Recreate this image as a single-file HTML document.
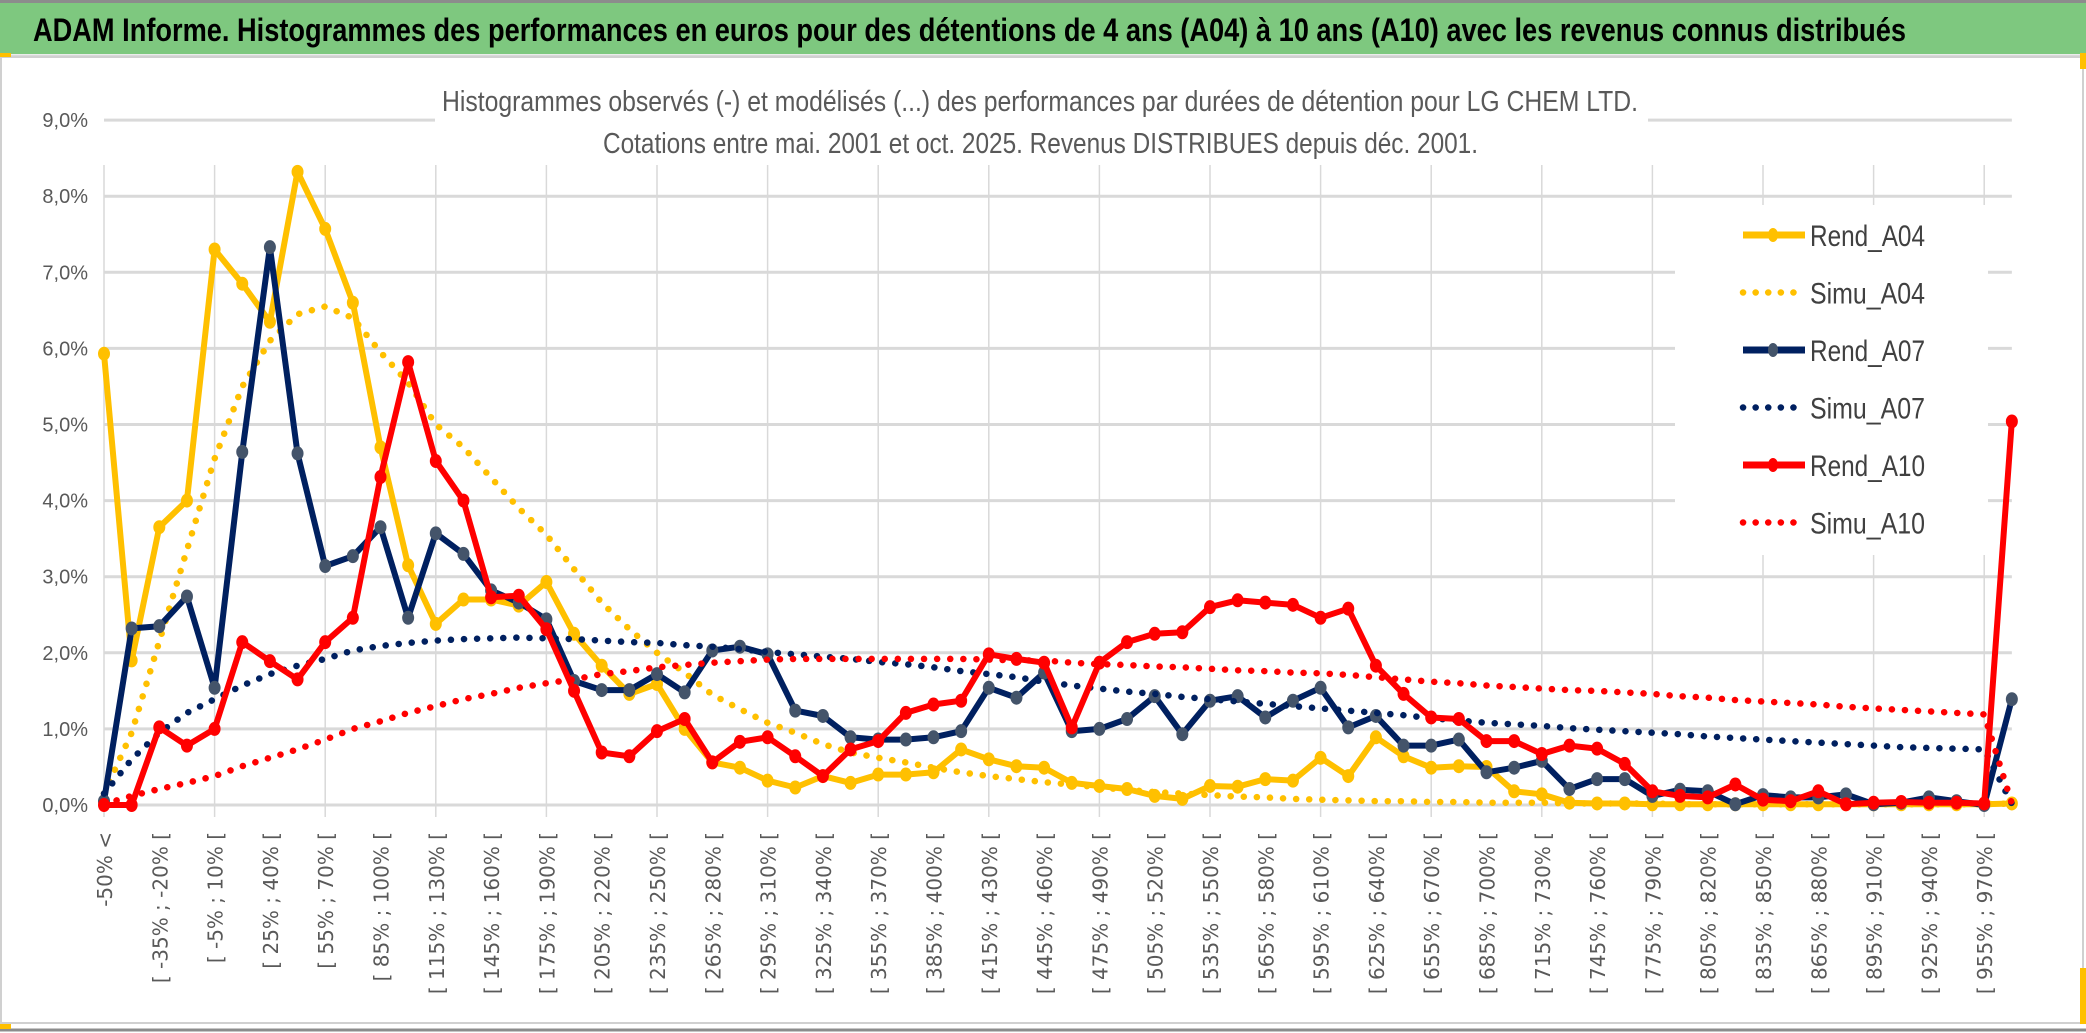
<!DOCTYPE html>
<html><head><meta charset="utf-8"><style>
html,body{margin:0;padding:0;background:#fff;}
svg{display:block;}
</style></head><body>
<svg id="chart" width="2086" height="1033" viewBox="0 0 2086 1033" xmlns="http://www.w3.org/2000/svg">
<rect x="0" y="0" width="2086" height="1033" fill="#ffffff"/>
<rect x="0" y="2" width="2086" height="52" fill="#7ec87f"/>
<line x1="0" y1="1.5" x2="2086" y2="1.5" stroke="#8c8c8c" stroke-width="3"/>
<line x1="0" y1="56" x2="2086" y2="56" stroke="#d9d9d9" stroke-width="3"/>
<text x="33" y="41" textLength="1873" lengthAdjust="spacingAndGlyphs" font-family="'Liberation Sans Narrow','Liberation Sans',sans-serif" font-weight="bold" font-size="32" fill="#000">ADAM Informe. Histogrammes des performances en euros pour des détentions de 4 ans (A04) à 10 ans (A10) avec les revenus connus distribués</text>
<rect x="1" y="57" width="2082" height="966" fill="none" stroke="#d0d0d0" stroke-width="2"/>
<line x1="0" y1="1030" x2="2086" y2="1030" stroke="#8c8c8c" stroke-width="3"/>
<rect x="0" y="53" width="11" height="4" fill="#ffc000"/>
<rect x="0" y="1024" width="11" height="5" fill="#ffc000"/>
<rect x="2080" y="53" width="6" height="16" fill="#ffc000"/>
<rect x="2080" y="968" width="6" height="56" fill="#ffc000"/>
<g id="grid"></g>
<rect x="435" y="62" width="1213" height="102" fill="#fff"/>
<text x="442" y="111" textLength="1196" lengthAdjust="spacingAndGlyphs" font-family="'Liberation Sans Narrow','Liberation Sans',sans-serif" font-size="29" fill="#595959">Histogrammes observés (-) et modélisés (...) des performances par durées de détention pour LG CHEM LTD.</text>
<text x="603" y="153" textLength="875" lengthAdjust="spacingAndGlyphs" font-family="'Liberation Sans Narrow','Liberation Sans',sans-serif" font-size="29" fill="#595959">Cotations entre mai. 2001 et oct. 2025. Revenus DISTRIBUES depuis déc. 2001.</text>
<g id="yaxis"></g>
<g id="xaxis"></g>
<g id="series"></g>
<g id="legend"></g>
</svg>
<script>
const yTicks = [0,1,2,3,4,5,6,7,8,9];
const catLowers = [];
for (let k = 0; k < 69; k++) catLowers.push(-50 + 15 * k);
const rendA04 = [5.93,1.9,3.65,4.0,7.3,6.85,6.35,8.32,7.57,6.6,4.7,3.15,2.38,2.7,2.7,2.62,2.93,2.25,1.83,1.46,1.59,1.0,0.56,0.49,0.32,0.23,0.38,0.29,0.4,0.4,0.43,0.73,0.6,0.51,0.49,0.29,0.25,0.21,0.12,0.08,0.25,0.24,0.34,0.32,0.62,0.38,0.89,0.64,0.49,0.51,0.5,0.18,0.14,0.03,0.02,0.02,0.01,0.01,0.01,0.01,0.01,0.01,0.01,0.01,0.01,0.01,0.01,0.01,0.01,0.02];
const simuA04 = [0.15,0.95,2.15,3.35,4.55,5.5,6.1,6.45,6.55,6.4,5.95,5.55,5.0,4.7,4.3,3.9,3.55,3.1,2.66,2.31,2.0,1.74,1.45,1.26,1.08,0.95,0.8,0.69,0.62,0.56,0.49,0.43,0.38,0.34,0.3,0.27,0.23,0.2,0.17,0.15,0.13,0.11,0.1,0.08,0.07,0.06,0.05,0.05,0.04,0.04,0.03,0.03,0.03,0.02,0.02,0.02,0.02,0.01,0.01,0.01,0.01,0.01,0.01,0.01,0.01,0.01,0.01,0.01,0.01,0.02];
const rendA07 = [0.05,2.32,2.35,2.74,1.54,4.64,7.33,4.62,3.14,3.27,3.65,2.46,3.57,3.3,2.82,2.66,2.44,1.63,1.51,1.51,1.72,1.48,2.03,2.08,1.98,1.24,1.17,0.89,0.86,0.86,0.89,0.97,1.54,1.41,1.74,0.97,1.0,1.13,1.43,0.93,1.37,1.43,1.15,1.37,1.54,1.02,1.17,0.78,0.78,0.86,0.43,0.49,0.58,0.21,0.34,0.34,0.12,0.2,0.18,0.01,0.13,0.1,0.1,0.14,0.01,0.03,0.1,0.05,0.0,1.39];
const simuA07 = [0.15,0.6,0.95,1.21,1.39,1.57,1.72,1.83,1.92,2.03,2.09,2.13,2.16,2.18,2.19,2.2,2.19,2.18,2.16,2.14,2.13,2.1,2.08,2.05,2.01,1.98,1.95,1.92,1.88,1.85,1.81,1.76,1.72,1.68,1.62,1.57,1.53,1.49,1.46,1.42,1.39,1.36,1.33,1.3,1.27,1.24,1.21,1.18,1.14,1.11,1.08,1.06,1.04,1.01,0.99,0.97,0.95,0.93,0.9,0.88,0.86,0.84,0.82,0.8,0.78,0.76,0.75,0.74,0.73,0.02];
const rendA10 = [0.0,0.0,1.02,0.78,1.0,2.14,1.89,1.65,2.14,2.46,4.31,5.82,4.52,4.0,2.73,2.75,2.31,1.5,0.69,0.64,0.97,1.13,0.56,0.83,0.89,0.64,0.38,0.73,0.84,1.21,1.32,1.37,1.98,1.92,1.87,1.02,1.87,2.14,2.25,2.27,2.6,2.69,2.66,2.63,2.46,2.58,1.83,1.46,1.15,1.13,0.84,0.84,0.67,0.78,0.74,0.54,0.18,0.12,0.1,0.27,0.07,0.05,0.18,0.01,0.03,0.04,0.03,0.03,0.02,5.04];
const simuA10 = [0.01,0.12,0.21,0.29,0.38,0.51,0.62,0.73,0.86,1.0,1.1,1.21,1.3,1.39,1.46,1.54,1.6,1.65,1.72,1.76,1.81,1.84,1.87,1.89,1.91,1.92,1.92,1.92,1.92,1.92,1.92,1.92,1.91,1.9,1.9,1.87,1.85,1.84,1.82,1.81,1.79,1.77,1.76,1.74,1.73,1.71,1.68,1.65,1.62,1.6,1.57,1.55,1.53,1.51,1.5,1.48,1.46,1.43,1.41,1.38,1.36,1.34,1.32,1.29,1.27,1.25,1.23,1.21,1.19,0.02];

const NS = 'http://www.w3.org/2000/svg';
const X0 = 104, DX = 27.65, Y0 = 805, DY = 76.1;
function xPos(i){ return X0 + i * DX; }
function yPos(v){ return Y0 - v * DY; }
function mk(tag, attrs, parent){
  const e = document.createElementNS(NS, tag);
  for (const k in attrs) e.setAttribute(k, attrs[k]);
  parent.appendChild(e);
  return e;
}
const nCat = rendA04.length;
const grid = document.getElementById('grid');
yTicks.forEach(t => {
  const l = mk('line', {x1: X0, x2: xPos(nCat - 1), y1: yPos(t), y2: yPos(t), stroke: '#d9d9d9', 'stroke-width': 3}, grid);
  
  
});
for (let i = 0; i < nCat; i += 4) {
  const l = mk('line', {x1: xPos(i), x2: xPos(i), y1: 165, y2: 817, stroke: '#d9d9d9', 'stroke-width': 1.5}, grid);
  
  
}
const yaxis = document.getElementById('yaxis');
yTicks.forEach(t => {
  const tx = mk('text', {x: 88, y: yPos(t) + 7, 'text-anchor': 'end', 'font-family': "'Liberation Sans Narrow','Liberation Sans',sans-serif", 'font-size': 20, fill: '#595959'}, yaxis);
  tx.textContent = t.toFixed(1).replace('.', ',') + '%';
  
  
});
const xaxis = document.getElementById('xaxis');
for (let i = 0; i < catLowers.length; i += 2) {
  const lab = i === 0 ? '-50% <' : '[ ' + catLowers[i - 1] + '% ; ' + (catLowers[i - 1] + 15) + '% [';
  const cx = xPos(i) + 8, cy = 832;
  const tx = mk('text', {x: cx, y: cy, transform: 'rotate(-90 ' + cx + ' ' + cy + ')', 'text-anchor': 'end', 'font-family': "'DejaVu Sans',sans-serif", 'font-size': 20, fill: '#595959'}, xaxis);
  tx.textContent = lab;
  
  
}
const seriesG = document.getElementById('series');
function pts(arr){ return arr.map((v, i) => xPos(i).toFixed(1) + ',' + yPos(v).toFixed(1)).join(' '); }
function drawRend(arr, color, mcolor, name){
  const g = mk('g', {}, seriesG);
  
  
  const pl = mk('polyline', {points: pts(arr), fill: 'none', stroke: color, 'stroke-width': 6, 'stroke-linejoin': 'round'}, g);
  
  
  arr.forEach((v, i) => {
    const c = mk('ellipse', {cx: xPos(i), cy: yPos(v), rx: 6, ry: 7, fill: mcolor}, g);
    
    
  });
}
function drawSimu(arr, color, name){
  const pl = mk('polyline', {points: pts(arr), fill: 'none', stroke: color, 'stroke-width': 6.5, 'stroke-linecap': 'round', 'stroke-dasharray': '0.1 13'}, seriesG);
  
  
}
drawRend(rendA04, '#ffc000', '#ffc000', 'rend-a04');
drawSimu(simuA04, '#ffc000', 'simu-a04');
drawRend(rendA07, '#002060', '#44546a', 'rend-a07');
drawSimu(simuA07, '#002060', 'simu-a07');
drawRend(rendA10, '#ff0000', '#ff0000', 'rend-a10');
drawSimu(simuA10, '#ff0000', 'simu-a10');

const legend = document.getElementById('legend');
const bg = mk('rect', {x: 1675, y: 205, width: 313, height: 350, fill: '#fff'}, legend);


const legItems = [['Rend_A04', '#ffc000', '#ffc000', 0], ['Simu_A04', '#ffc000', '', 1], ['Rend_A07', '#002060', '#44546a', 0], ['Simu_A07', '#002060', '', 1], ['Rend_A10', '#ff0000', '#ff0000', 0], ['Simu_A10', '#ff0000', '', 1]];
legItems.forEach((it, k) => {
  const y = 235 + k * 57.5;
  const g = mk('g', {}, legend);
  
  
  if (it[3]) {
    const l = mk('line', {x1: 1743, x2: 1797, y1: y, y2: y, stroke: it[1], 'stroke-width': 6.5, 'stroke-linecap': 'round', 'stroke-dasharray': '0.1 12.5'}, g);
    
    
  } else {
    const l = mk('line', {x1: 1743, x2: 1805, y1: y, y2: y, stroke: it[1], 'stroke-width': 7}, g);
    
    
    const c = mk('ellipse', {cx: 1773, cy: y, rx: 5, ry: 7, fill: it[2]}, g);
    
    
  }
  const t = mk('text', {x: 1810, y: y + 11, textLength: 115, lengthAdjust: 'spacingAndGlyphs', 'font-family': "'Liberation Sans Narrow','Liberation Sans',sans-serif", 'font-size': 30, fill: '#404040'}, g);
  t.textContent = it[0];
  
  
});
</script>
</body></html>
